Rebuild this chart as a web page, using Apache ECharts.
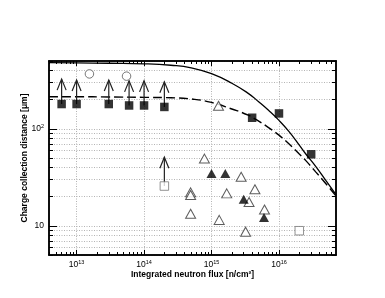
<!DOCTYPE html>
<html>
<head>
<meta charset="utf-8">
<script src="https://cdn.jsdelivr.net/npm/echarts@6/dist/echarts.min.js"></script>
<style>html,body{margin:0;padding:0;background:#fff;}#c{width:385px;height:298px;}</style>
</head>
<body>
<div id="c"></div>
<script>
// ---- data ----
const solidX = [3.9e12, 1e13, 3e13, 1e14, 2.5e14, 5e14, 1e15, 2e15, 3.5e15, 5e15, 7e15, 1e16, 1.4e16, 2e16, 2.5e16, 3.5e16, 5e16, 7e16];
const solidY = [480, 478, 474, 468, 452, 425, 370, 295, 232, 190, 155, 122, 94, 68, 55, 41, 29, 21];
const dashX = [3.9e12, 1e13, 3e13, 1e14, 2.5e14, 5e14, 1e15, 2e15, 3.5e15, 5e15, 7e15, 1e16, 1.4e16, 2e16, 2.5e16, 3.5e16, 5e16, 7e16];
const dashY = [214, 214, 213, 211, 209, 203, 187, 160, 138, 120, 103, 86, 70, 55, 47, 36, 27, 20.3];

const filledSquareX = [6e12, 1e13, 3e13, 6e13, 1e14, 2e14, 4e15, 1e16, 3e16];
const filledSquareY = [180, 180, 180, 174, 174, 168, 130, 144, 54.6];

const openSquareX = [2e14, 2e16];
const openSquareY = [25.7, 8.9];

const openCircleX = [1.55e13, 5.5e13];
const openCircleY = [368, 349];

const openTriX = [1.27e15, 7.85e14, 2.75e15, 4.4e15, 4.9e14, 4.9e14, 1.68e15, 3.6e15, 4.9e14, 1.3e15, 6.1e15, 3.2e15];
const openTriY = [173, 49.3, 32, 23.8, 22.1, 20.8, 21.6, 17.6, 13.3, 11.5, 14.7, 8.7];

const filledTriX = [1e15, 1.6e15, 3e15, 6e15];
const filledTriY = [34.6, 34.6, 18.8, 12.2];

// lower-limit arrows: x, from value, to (tip) value
const arrowX = [6e12, 1e13, 3e13, 6e13, 1e14, 2e14, 2e14];
const arrowFrom = [180, 180, 180, 174, 174, 168, 25.7];
const arrowTo = [325, 318, 318, 312, 312, 305, 51];

// axis ticks / labels
const xMin = 3.9e12, xMax = 7e16;
const yMin = 5, yMax = 500;
const xMajor = [1e13, 1e14, 1e15, 1e16];
const yMajor = [10, 100];
const xMinor = [];
for (let e = 12; e <= 16; e++) for (let m = 1; m <= 9; m++) {
  const v = m * Math.pow(10, e);
  if (v >= xMin && v <= xMax) xMinor.push(v);
}
const yMinor = [];
for (let e = 0; e <= 2; e++) for (let m = 1; m <= 9; m++) {
  const v = m * Math.pow(10, e);
  if (v >= yMin && v <= yMax) yMinor.push(v);
}
const xTitle = 'Integrated neutron flux [n/cm²]';
const yTitle = 'Charge collection distance [μm]';

// ---- build ----
const zip = (a, b) => a.map((v, i) => [v, b[i]]);
const FONT = 'Liberation Sans';
const expLabel = (v) => {
  const e = Math.round(Math.log10(v));
  return e === 1 ? '{b|10}' : '{b|10}{s|' + e + '}';
};
const rich = {
  b: { fontSize: 8.5, fontFamily: FONT, color: '#000', lineHeight: 11 },
  s: { fontSize: 5.5, fontFamily: FONT, color: '#000', verticalAlign: 'top', lineHeight: 11 }
};
const grid = { left: 49, top: 61, width: 287, height: 194 };
const lineAx = { show: true, lineStyle: { color: '#000', width: 1.5 } };
const gridLine = { show: true, lineStyle: { color: '#b4b4b4', type: [1, 1.5], width: 1 } };

function xAx(pos, ticks, len, opts) {
  return Object.assign({
    type: 'log', min: xMin, max: xMax, position: pos, gridIndex: 0,
    axisLine: lineAx,
    axisTick: { show: true, inside: true, length: len, customValues: ticks, lineStyle: { color: '#000', width: 1 } },
    axisLabel: { show: false },
    splitLine: { show: false },
    minorTick: { show: false }
  }, opts || {});
}
function yAx(pos, ticks, len, opts) {
  return Object.assign({
    type: 'log', min: yMin, max: yMax, position: pos, gridIndex: 0,
    axisLine: lineAx,
    axisTick: { show: true, inside: true, length: len, customValues: ticks, lineStyle: { color: '#000', width: 1 } },
    axisLabel: { show: false },
    splitLine: { show: false },
    minorTick: { show: false }
  }, opts || {});
}

const option = {
  animation: false,
  backgroundColor: '#fff',
  grid: grid,
  xAxis: [
    xAx('bottom', xMinor, 3, {
      name: xTitle, nameLocation: 'middle', nameGap: 15, nameMoveOverlap: false,
      nameTextStyle: { fontFamily: FONT, fontSize: 8.5, fontWeight: 'bold', color: '#000' },
      axisLabel: { show: true, customValues: xMajor, margin: 4, formatter: expLabel, rich: rich }
    }),
    xAx('bottom', xMajor, 5, { splitLine: gridLine }),
    xAx('top', xMinor, 3),
    xAx('top', xMajor, 5)
  ],
  yAxis: [
    yAx('left', yMinor, 4, {
      name: yTitle, nameLocation: 'middle', nameGap: 20, nameRotate: 90, nameMoveOverlap: false,
      nameTextStyle: { fontFamily: FONT, fontSize: 8.5, fontWeight: 'bold', color: '#000' },
      axisLabel: { show: true, customValues: yMajor, margin: 5, formatter: expLabel, rich: rich },
      splitLine: gridLine
    }),
    yAx('left', yMajor, 8),
    yAx('right', yMinor, 4),
    yAx('right', yMajor, 8)
  ],
  series: [
    {
      type: 'line', data: zip(solidX, solidY), showSymbol: false, smooth: 0.5,
      lineStyle: { color: '#000', width: 1.3 }, z: 3, silent: true
    },
    {
      type: 'line', data: zip(dashX, dashY), showSymbol: false, smooth: 0.5,
      lineStyle: { color: '#000', width: 1.4, type: [9, 4] }, z: 3, silent: true
    },
    {
      type: 'custom', z: 4,
      data: arrowX.map((x, i) => [x, arrowFrom[i], arrowTo[i]]),
      encode: { x: 0, y: [1, 2] },
      renderItem: function (params, api) {
        const p0 = api.coord([api.value(0), api.value(1)]);
        const p1 = api.coord([api.value(0), api.value(2)]);
        const st = { stroke: '#222', lineWidth: 1.2, fill: null };
        return {
          type: 'group', children: [
            { type: 'line', shape: { x1: p0[0], y1: p0[1], x2: p1[0], y2: p1[1] }, style: st },
            { type: 'polyline', shape: { points: [[p1[0] - 4.5, p1[1] + 11], [p1[0], p1[1]], [p1[0] + 4.5, p1[1] + 11]] }, style: st }
          ]
        };
      }
    },
    {
      type: 'scatter', data: zip(openCircleX, openCircleY), symbol: 'circle', symbolSize: 8.5, z: 5,
      itemStyle: { color: '#fff', borderColor: '#555', borderWidth: 1 }
    },
    {
      type: 'scatter', data: zip(openTriX, openTriY), symbol: 'triangle', symbolSize: [10, 9], z: 5,
      itemStyle: { color: '#fff', borderColor: '#333', borderWidth: 1 }
    },
    {
      type: 'scatter', data: zip(filledTriX, filledTriY), symbol: 'triangle', symbolSize: [10, 9], z: 6,
      itemStyle: { color: '#000' }
    },
    {
      type: 'scatter', data: zip(openSquareX, openSquareY), symbol: 'rect', symbolSize: 8.5, z: 5,
      itemStyle: { color: '#fff', borderColor: '#777', borderWidth: 1 }
    },
    {
      type: 'scatter', data: zip(filledSquareX, filledSquareY), symbol: 'rect', symbolSize: 8.5, z: 6,
      itemStyle: { color: '#000' }
    }
  ]
};
const chart = echarts.init(document.getElementById('c'), null, { renderer: 'canvas' });
chart.setOption(option);
</script>
</body>
</html>
